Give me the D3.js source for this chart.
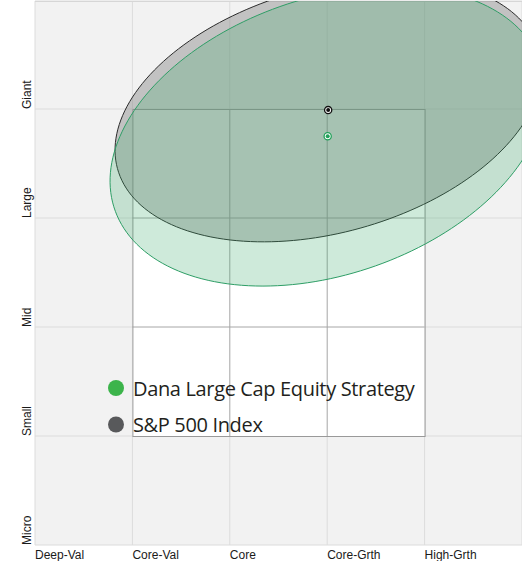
<!DOCTYPE html>
<html>
<head>
<meta charset="utf-8">
<script src="https://cdn.jsdelivr.net/npm/d3@7"></script>
<style>
  body { margin: 0; background: #fff; }
  svg { display: block; }
</style>
</head>
<body>
<div id="chart"></div>
<script>
// style categories (x) and size categories (y)
const styleLabels = ["Deep-Val", "Core-Val", "Core", "Core-Grth", "High-Grth"];
const sizeLabels = ["Micro", "Small", "Mid", "Large", "Giant"];

// series: centroid and style ellipse (data units, angle in degrees)
const seriesNames = ["S&P 500 Index", "Dana Large Cap Equity Strategy"];
const centerX = [3.01, 3.005];
const centerY = [3.99, 3.75];
const ellipseRx = [2.23, 2.29];
const ellipseRy = [1.13, 1.28];
const ellipseAngle = [12.9, 15.3];

// the "core" style box
const boxX = [1, 4];
const boxY = [1, 4];

const legendLabels = ["Dana Large Cap Equity Strategy", "S&P 500 Index"];
const legendColors = ["#3cb44b", "#58595b"];

const width = 522;
const height = 561;
const plotLeft = 35, plotRight = 522, plotTop = 1, plotBottom = 545;

const svg = d3.select("#chart")
    .append("svg")
    .attr("width", width)
    .attr("height", height);

const x = d3.scaleLinear().domain([0, 5]).range([plotLeft, plotRight]);
const y = d3.scaleLinear().domain([0, 5]).range([plotBottom, 0]);

svg.append("clipPath").attr("id", "plot-clip")
    .append("rect")
    .attr("x", plotLeft).attr("y", plotTop)
    .attr("width", plotRight - plotLeft).attr("height", plotBottom - plotTop);

// background
svg.append("rect")
    .attr("x", plotLeft).attr("y", plotTop)
    .attr("width", plotRight - plotLeft).attr("height", plotBottom - plotTop)
    .attr("fill", "#f2f2f2");

// light grid
const ticks = d3.range(0, 6);
svg.append("g").selectAll("line")
    .data(ticks)
    .enter().append("line")
    .attr("x1", d => x(d)).attr("x2", d => x(d))
    .attr("y1", plotTop).attr("y2", plotBottom)
    .attr("stroke", "#dcdcdc");
svg.append("g").selectAll("line")
    .data(ticks)
    .enter().append("line")
    .attr("x1", plotLeft).attr("x2", plotRight)
    .attr("y1", d => y(d)).attr("y2", d => y(d))
    .attr("stroke", "#dcdcdc");
svg.append("line")
    .attr("x1", plotLeft).attr("x2", plotRight)
    .attr("y1", plotTop + 0.5).attr("y2", plotTop + 0.5)
    .attr("stroke", "#d6d6d6");

// style box
svg.append("rect")
    .attr("x", x(boxX[0])).attr("y", y(boxY[1]))
    .attr("width", x(boxX[1]) - x(boxX[0]))
    .attr("height", y(boxY[0]) - y(boxY[1]))
    .attr("fill", "#fff");
svg.append("g").selectAll("line")
    .data(d3.range(boxX[0] + 1, boxX[1]))
    .enter().append("line")
    .attr("x1", d => x(d)).attr("x2", d => x(d))
    .attr("y1", y(boxY[1])).attr("y2", y(boxY[0]))
    .attr("stroke", "#a6a6a6");
svg.append("g").selectAll("line")
    .data(d3.range(boxY[0] + 1, boxY[1]))
    .enter().append("line")
    .attr("x1", x(boxX[0])).attr("x2", x(boxX[1]))
    .attr("y1", d => y(d)).attr("y2", d => y(d))
    .attr("stroke", "#a6a6a6");
svg.append("rect")
    .attr("x", x(boxX[0]) + 0.5).attr("y", y(boxY[1]) + 0.5)
    .attr("width", x(boxX[1]) - x(boxX[0]))
    .attr("height", y(boxY[0]) - y(boxY[1]))
    .attr("fill", "none")
    .attr("stroke", "#999");

// ellipses
const ellipseFill = ["#808080", "#3aaa6a"];
const ellipseOpacity = [0.42, 0.25];
const ellipseStroke = ["#2b2b2b", "#2e9e66"];

function ellipsePoints(i) {
    const a = ellipseAngle[i] * Math.PI / 180;
    return d3.range(0, 360, 2).map(deg => {
        const t = deg * Math.PI / 180;
        const u = ellipseRx[i] * Math.cos(t), v = ellipseRy[i] * Math.sin(t);
        return [centerX[i] + u * Math.cos(a) - v * Math.sin(a),
                centerY[i] + u * Math.sin(a) + v * Math.cos(a)];
    });
}
const line = d3.line()
    .x(d => x(d[0])).y(d => y(d[1]))
    .curve(d3.curveCardinalClosed);

const plot = svg.append("g").attr("clip-path", "url(#plot-clip)");
plot.selectAll("path.ellipse")
    .data(d3.range(seriesNames.length))
    .enter().append("path")
    .attr("class", "ellipse")
    .attr("d", i => line(ellipsePoints(i)))
    .attr("fill", i => ellipseFill[i])
    .attr("fill-opacity", i => ellipseOpacity[i])
    .attr("stroke", i => ellipseStroke[i])
    .attr("stroke-width", 1);

// centroid markers
const markerColor = ["#111", "#22a05a"];
plot.selectAll("circle.outer")
    .data(d3.range(seriesNames.length))
    .enter().append("circle")
    .attr("class", "outer")
    .attr("cx", i => x(centerX[i])).attr("cy", i => y(centerY[i]))
    .attr("r", 3.6)
    .attr("fill", "#fff")
    .attr("stroke", i => markerColor[i])
    .attr("stroke-width", 1.3);
plot.selectAll("circle.inner")
    .data(d3.range(seriesNames.length))
    .enter().append("circle")
    .attr("class", "inner")
    .attr("cx", i => x(centerX[i])).attr("cy", i => y(centerY[i]))
    .attr("r", 2)
    .attr("fill", i => markerColor[i]);

// x labels
svg.append("g").selectAll("text")
    .data(styleLabels)
    .enter().append("text")
    .attr("x", (d, i) => x(i))
    .attr("y", 559)
    .style("font-family", "'Liberation Sans', Arial, sans-serif")
    .style("font-size", "12px")
    .style("fill", "#1a1a1a")
    .text(d => d);

// y labels
svg.append("g").selectAll("text")
    .data(sizeLabels)
    .enter().append("text")
    .attr("transform", (d, i) => `translate(31, ${y(i)}) rotate(-90)`)
    .style("font-family", "'Liberation Sans', Arial, sans-serif")
    .style("font-size", "12px")
    .style("fill", "#1a1a1a")
    .text(d => d);

// legend
const legend = svg.append("g").selectAll("g")
    .data(legendLabels)
    .enter().append("g")
    .attr("transform", (d, i) => `translate(116, ${388 + i * 36.5})`);
legend.append("circle")
    .attr("r", 8)
    .attr("fill", (d, i) => legendColors[i]);
legend.append("text")
    .attr("x", 17)
    .attr("y", 7.5)
    .style("font-family", "'Open Sans', sans-serif")
    .style("font-size", "20px")
    .style("letter-spacing", "-0.35px")
    .style("fill", "#231f20")
    .text(d => d);
</script>
</body>
</html>
